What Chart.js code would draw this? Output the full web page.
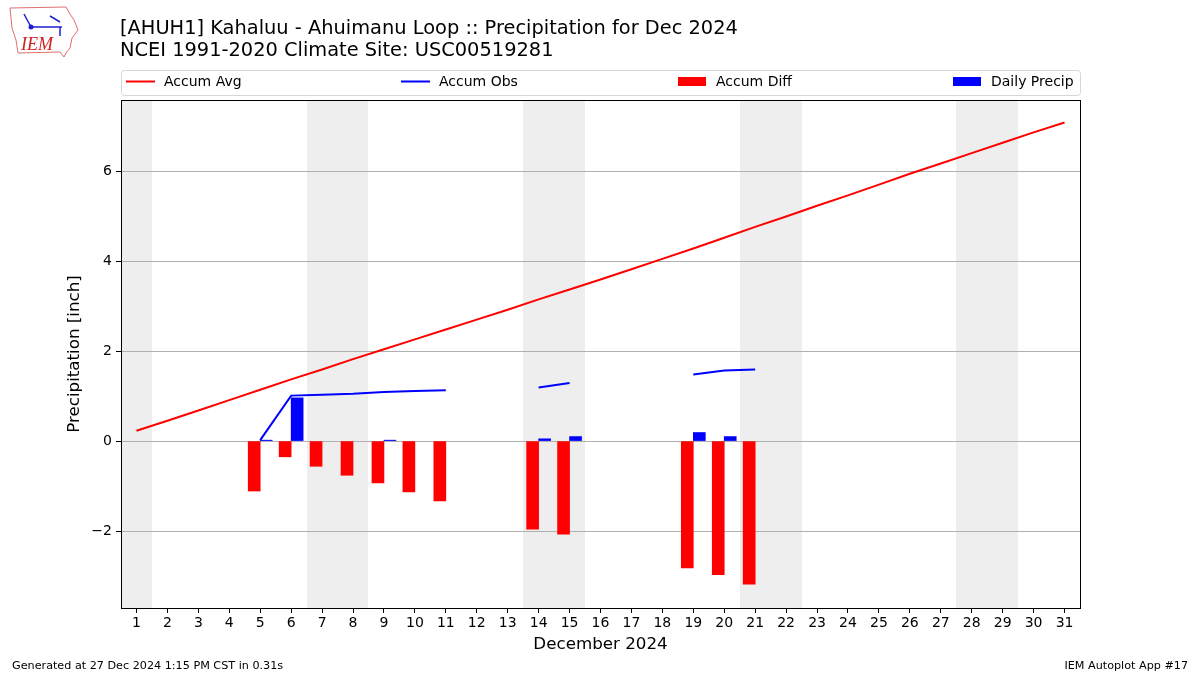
<!DOCTYPE html>
<html>
<head>
<meta charset="utf-8">
<script src="https://cdn.jsdelivr.net/npm/chart.js@4.4.1/dist/chart.umd.min.js"></script>
<style>
  html, body { margin: 0; padding: 0; background: #fff; }
  #wrap { width: 1200px; height: 675px; position: relative; }
</style>
</head>
<body>
<div id="wrap"><canvas id="myChart" width="1200" height="675"></canvas></div>
<script>
// data
var days = [1, 2, 3, 4, 5, 6, 7, 8, 9, 10, 11, 12, 13, 14, 15, 16, 17, 18, 19, 20, 21, 22, 23, 24, 25, 26, 27, 28, 29, 30, 31];
var accumAvg = [0.23, 0.45, 0.68, 0.91, 1.14, 1.37, 1.59, 1.82, 2.04, 2.26, 2.48, 2.70, 2.92, 3.15, 3.37, 3.59,
  3.82, 4.05, 4.28, 4.52, 4.76, 4.99, 5.23, 5.46, 5.70, 5.94, 6.17, 6.40, 6.63, 6.86, 7.08];
var obsDays = [5, 6, 7, 8, 9, 10, 11, 14, 15, 19, 20, 21];
var accumObs = [0.02, 1.01, 1.03, 1.05, 1.09, 1.11, 1.13, 1.19, 1.29, 1.48, 1.57, 1.59];
var accumDiff = [-1.11, -0.35, -0.56, -0.76, -0.93, -1.13, -1.33, -1.96, -2.07, -2.82, -2.97, -3.18];
var precipDays = [5, 6, 9, 14, 15, 19, 20];
var dailyPrecip = [0.02, 0.96, 0.02, 0.05, 0.10, 0.19, 0.10];
var weekendDays = [1, 7, 8, 14, 15, 21, 22, 28, 29];
var yTicks = [-2, 0, 2, 4, 6];

var FONT = 'DejaVu Sans';

var obsLine = days.map(function (d) {
  var i = obsDays.indexOf(d);
  return { x: d, y: i >= 0 ? accumObs[i] : null };
});

var extras = {
  id: 'extras',
  beforeDraw: function (chart) {
    var ctx = chart.ctx, a = chart.chartArea, x = chart.scales.x;
    ctx.save();
    ctx.fillStyle = '#ffffff';
    ctx.fillRect(0, 0, chart.width, chart.height);
    // weekends
    ctx.fillStyle = '#eeeeee';
    weekendDays.forEach(function (d) {
      var x0 = Math.round(x.getPixelForValue(d - 0.5)), x1 = Math.round(x.getPixelForValue(d + 0.5));
      ctx.fillRect(x0, a.top, x1 - x0, a.bottom - a.top);
    });
    ctx.restore();
  },
  afterDraw: function (chart) {
    var ctx = chart.ctx, a = chart.chartArea;
    ctx.save();
    // frame
    ctx.strokeStyle = '#000';
    ctx.lineWidth = 1;
    ctx.strokeRect(Math.round(a.left) + 0.5, Math.round(a.top) + 0.5, Math.round(a.right - a.left), Math.round(a.bottom - a.top));

    // titles
    ctx.fillStyle = '#000';
    ctx.textBaseline = 'middle';
    ctx.textAlign = 'left';
    ctx.font = '19.4px "' + FONT + '"';
    ctx.fillText('[AHUH1] Kahaluu - Ahuimanu Loop :: Precipitation for Dec 2024', 120, 29);
    ctx.fillText('NCEI 1991-2020 Climate Site: USC00519281', 120, 51);

    // legend box
    var lx = a.left, ly = 70, lw = a.right - a.left, lh = 25;
    ctx.beginPath();
    ctx.roundRect(lx + 0.5, ly + 0.5, lw, lh, 3);
    ctx.fillStyle = 'rgba(255,255,255,0.8)';
    ctx.fill();
    ctx.strokeStyle = '#d6d6d6';
    ctx.stroke();
    var items = [
      { off: 5, label: 'Accum Avg', color: '#ff0000', kind: 'line' },
      { off: 280, label: 'Accum Obs', color: '#0000ff', kind: 'line' },
      { off: 557, label: 'Accum Diff', color: '#ff0000', kind: 'box' },
      { off: 832, label: 'Daily Precip', color: '#0000ff', kind: 'box' }
    ];
    var cy = ly + 11.5;
    ctx.font = '14px "' + FONT + '"';
    items.forEach(function (it) {
      var hx = lx + it.off;
      if (it.kind === 'line') {
        ctx.strokeStyle = it.color;
        ctx.lineWidth = 2;
        ctx.beginPath();
        ctx.moveTo(hx, cy);
        ctx.lineTo(hx + 29, cy);
        ctx.stroke();
      } else {
        ctx.fillStyle = it.color;
        ctx.fillRect(hx, cy - 4.5, 28, 9);
      }
      ctx.fillStyle = '#000';
      ctx.fillText(it.label, hx + 38, cy + 1);
    });

    // footer
    ctx.font = '11.2px "' + FONT + '"';
    ctx.fillText('Generated at 27 Dec 2024 1:15 PM CST in 0.31s', 12, 666);
    ctx.textAlign = 'right';
    ctx.fillText('IEM Autoplot App #17', 1188, 666);

    // logo (rough)
    ctx.strokeStyle = '#e07070';
    ctx.lineWidth = 1;
    ctx.beginPath();
    ctx.moveTo(10, 8); ctx.lineTo(66, 7); ctx.lineTo(70, 14); ctx.lineTo(74, 20);
    ctx.lineTo(78, 30); ctx.lineTo(72, 38); ctx.lineTo(70, 48); ctx.lineTo(66, 53);
    ctx.lineTo(64, 57); ctx.lineTo(60, 52); ctx.lineTo(18, 53); ctx.lineTo(16, 40);
    ctx.lineTo(12, 28); ctx.lineTo(10, 8);
    ctx.stroke();
    ctx.strokeStyle = '#2020d0';
    ctx.lineWidth = 1.5;
    ctx.beginPath();
    ctx.moveTo(31, 27); ctx.lineTo(62, 27);
    ctx.moveTo(31, 27); ctx.lineTo(24, 14);
    ctx.moveTo(50, 16); ctx.lineTo(60, 22);
    ctx.moveTo(60, 27); ctx.lineTo(60, 36);
    ctx.stroke();
    ctx.fillStyle = '#2020d0';
    ctx.beginPath(); ctx.arc(31, 27, 2.5, 0, Math.PI * 2); ctx.fill();
    ctx.fillStyle = '#d02020';
    ctx.textAlign = 'left';
    ctx.font = 'italic 18px "Liberation Serif"';
    ctx.fillText('IEM', 21, 45);
    ctx.restore();
  }
};

var ctx = document.getElementById('myChart').getContext('2d');
var myChart = new Chart(ctx, {
  type: 'bar',
  data: {
    datasets: [
      {
        type: 'line',
        label: 'Accum Avg',
        data: days.map(function (d, i) { return { x: d, y: accumAvg[i] }; }),
        borderColor: '#ff0000',
        borderWidth: 2,
        pointRadius: 0,
        fill: false,
        order: 1
      },
      {
        type: 'line',
        label: 'Accum Obs',
        data: obsLine,
        borderColor: '#0000ff',
        borderWidth: 2,
        pointRadius: 0,
        spanGaps: false,
        fill: false,
        order: 1
      },
      {
        label: 'Accum Diff',
        data: obsDays.map(function (d, i) { return { x: d, y: accumDiff[i] }; }),
        backgroundColor: '#ff0000',
        barThickness: 12,
        order: 2
      },
      {
        label: 'Daily Precip',
        data: precipDays.map(function (d, i) { return { x: d, y: dailyPrecip[i] }; }),
        backgroundColor: '#0000ff',
        barThickness: 12,
        order: 2
      }
    ]
  },
  options: {
    responsive: false,
    animation: false,
    layout: { padding: { left: 0, top: 100, right: 120, bottom: 0 } },
    plugins: { legend: { display: false }, tooltip: { enabled: false } },
    scales: {
      x: {
        type: 'linear',
        min: 0.5,
        max: 31.5,
        offset: false,
        afterFit: function (s) { s.height = 67; },
        afterBuildTicks: function (s) { s.ticks = days.map(function (d) { return { value: d }; }); },
        grid: { offset: false, drawOnChartArea: false, tickLength: 5, tickColor: '#000', color: '#000' },
        border: { color: '#000', width: 1 },
        ticks: { color: '#000', font: { family: FONT, size: 14 }, padding: 2, autoSkip: false, maxRotation: 0,
          callback: function (v) { return String(v); } },
        title: { display: true, text: 'December 2024', color: '#000', font: { family: FONT, size: 16.7 },
          padding: { top: 0, bottom: 20 } }
      },
      y: {
        min: -3.71,
        max: 7.58,
        afterFit: function (s) { s.width = 121; },
        afterBuildTicks: function (s) { s.ticks = yTicks.map(function (v) { return { value: v }; }); },
        grid: { color: '#b0b0b0', tickColor: '#000', tickLength: 5 },
        border: { color: '#000', width: 1 },
        ticks: { color: '#000', font: { family: FONT, size: 14 }, padding: 4,
          callback: function (v) { return String(v).replace('-', '\u2212'); } },
        title: { display: true, text: 'Precipitation [inch]', color: '#000', font: { family: FONT, size: 16.7 },
          padding: { top: 65, bottom: 0 } }
      }
    }
  },
  plugins: [extras]
});
</script>
</body>
</html>
